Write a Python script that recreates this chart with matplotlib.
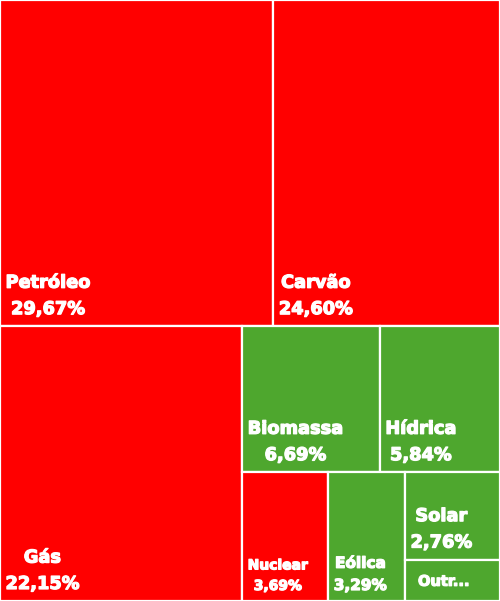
import matplotlib
matplotlib.use("Agg")
import matplotlib.pyplot as plt
from matplotlib.patches import Rectangle
import matplotlib.patheffects as pe

labels = ["Petróleo", "Carvão", "Gás", "Biomassa", "Hídrica", "Nuclear", "Eólica", "Solar", "Outros"]
values = [29.67, 24.60, 22.15, 6.69, 5.84, 3.69, 3.29, 2.76, 1.31]
renewable = [False, False, False, True, True, False, True, True, True]

RED = "#FF0000"
GREEN = "#4EA72E"
W, H = 500, 601


def worst(row, length):
    s = sum(row)
    return max(max(length * length * r / (s * s), s * s / (length * length * r)) for r in row)


def layout_row(row, x, y, dx, dy):
    s = sum(row)
    rects = []
    if dx >= dy:  # column on the left
        w = s / dy
        yy = y
        for r in row:
            h = r / w
            rects.append((x, yy, w, h))
            yy += h
        return rects, (x + w, y, dx - w, dy)
    else:  # row on top
        h = s / dx
        xx = x
        for r in row:
            w = r / h
            rects.append((xx, y, w, h))
            xx += w
        return rects, (x, y + h, dx, dy - h)


def squarify(areas, x, y, dx, dy):
    rects = []
    areas = list(areas)
    while areas:
        length = min(dx, dy)
        row = [areas.pop(0)]
        while areas and worst(row + [areas[0]], length) <= worst(row, length):
            row.append(areas.pop(0))
        r, (x, y, dx, dy) = layout_row(row, x, y, dx, dy)
        rects.extend(r)
    return rects


total = sum(values)
areas = [v / total * W * H for v in values]
rects = squarify(areas, 0, 0, W, H)

fig = plt.figure(figsize=(5.0, 6.01), dpi=100)
ax = fig.add_axes([0, 0, 1, 1])
ax.set_xlim(0, W)
ax.set_ylim(H, 0)
ax.axis("off")

small_sizes = {"Nuclear": 10, "Eólica": 11, "Outros": 10.5}
heavy = [pe.withStroke(linewidth=0.9, foreground="white")]

for (x, y, w, h), lab, val, ren in zip(rects, labels, values, renewable):
    ax.add_patch(Rectangle((x, y), w, h, facecolor=GREEN if ren else RED,
                           edgecolor="white", linewidth=1.6))
    fs = small_sizes.get(lab, 12.8)
    if val < 2:
        txt = lab[:4] + "..."
        ax.text(x + 13, y + h / 2 + 1, txt, ha="left", va="center",
                color="white", fontsize=fs, fontweight="bold", path_effects=heavy)
    else:
        txt = f"{lab}\n{val:.2f}%".replace(".", ",")
        ax.text(x + 5.5, y + h - 8, txt, ha="left", va="bottom", multialignment="center",
                color="white", fontsize=fs, fontweight="bold", linespacing=1.6,
                path_effects=heavy)

fig.savefig("out.png", dpi=100)
